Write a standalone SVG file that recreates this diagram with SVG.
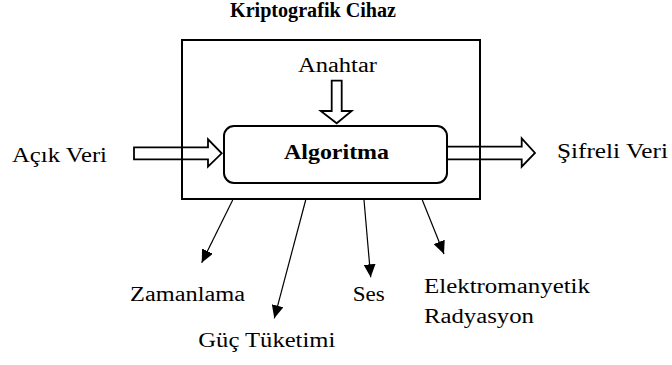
<svg xmlns="http://www.w3.org/2000/svg" width="672" height="365" viewBox="0 0 672 365">
  <style>
    text { fill: #000; font-family: Liberation Serif, Tinos, DejaVu Serif, serif; }
    .lbl { font-size: 20.5px; }
    .bold { font-weight: bold; }
    .frame { fill: none; stroke: #000; stroke-width: 2; }
    .block { fill: #fff; stroke: #000; stroke-width: 1.8; stroke-linejoin: miter; }
    .leak { fill: none; stroke: #000; stroke-width: 1.2; marker-end: url(#tip); }
  </style>
  <defs>
    <marker id="tip" markerUnits="userSpaceOnUse" markerWidth="14" markerHeight="12" refX="13" refY="6" orient="auto">
      <path d="M0,0 L13,6 L0,12 Z" fill="#000"/>
    </marker>
  </defs>

  <rect width="672" height="365" fill="#fff"/>

  <!-- title -->
  <text class="bold" font-family="Liberation Serif" x="230" y="17" font-size="20" textLength="166" lengthAdjust="spacingAndGlyphs">Kriptografik Cihaz</text>

  <!-- block arrows (input, key, output) -->
  <g id="flows">
    <path class="block" d="M134,147.3 H208 V139.3 L221.7,153.3 L208,166.7 V159.3 H134 Z"/>
    <path class="block" d="M331.7,80.7 H341.7 V111 H351.7 L336.7,123.3 L320.7,111 H331.7 Z"/>
    <path class="block" d="M447,146.7 H521.7 V138.3 L535,153 L521.7,166.7 V159.3 H447 Z"/>
  </g>

  <!-- device boundary -->
  <g id="device">
    <rect class="frame" x="182" y="40" width="298" height="159"/>
  </g>

  <!-- algorithm core -->
  <g id="algorithm">
    <rect class="frame" x="224" y="126" width="223" height="57" rx="10" ry="10" style="fill:#fff"/>
    <text class="bold" font-family="Liberation Serif" x="284" y="158.7" font-size="22" textLength="105" lengthAdjust="spacingAndGlyphs">Algoritma</text>
  </g>

  <g id="key">
    <text class="lbl" font-family="Liberation Serif" x="298" y="72" textLength="79" lengthAdjust="spacingAndGlyphs">Anahtar</text>
  </g>
  <g id="plaintext">
    <text class="lbl" font-family="Liberation Serif" x="12" y="162.3" textLength="95" lengthAdjust="spacingAndGlyphs">Açık Veri</text>
  </g>
  <g id="ciphertext">
    <text class="lbl" font-family="Liberation Serif" x="557" y="157.5" textLength="111" lengthAdjust="spacingAndGlyphs">Şifreli Veri</text>
  </g>

  <!-- side-channel leak arrows -->
  <g id="connectors">
    <line class="leak" x1="232.7" y1="200" x2="201.7" y2="262.7"/>
    <line class="leak" x1="305.7" y1="200" x2="274.3" y2="318.3"/>
    <line class="leak" x1="364" y1="200" x2="370.7" y2="277.3"/>
    <line class="leak" x1="422.3" y1="200" x2="444" y2="254"/>
  </g>

  <g id="timing">
    <text class="lbl" font-family="Liberation Serif" x="130" y="300.7" textLength="115" lengthAdjust="spacingAndGlyphs">Zamanlama</text>
  </g>
  <g id="power">
    <text class="lbl" font-family="Liberation Serif" x="198.3" y="347" textLength="137" lengthAdjust="spacingAndGlyphs">Güç Tüketimi</text>
  </g>
  <g id="sound">
    <text class="lbl" font-family="Liberation Serif" x="352.7" y="300.7" textLength="32" lengthAdjust="spacingAndGlyphs">Ses</text>
  </g>
  <g id="em">
    <text class="lbl" font-family="Liberation Serif" x="424" y="292.7" textLength="166" lengthAdjust="spacingAndGlyphs">Elektromanyetik</text>
    <text class="lbl" font-family="Liberation Serif" x="424" y="322.7" textLength="110" lengthAdjust="spacingAndGlyphs">Radyasyon</text>
  </g>
</svg>
